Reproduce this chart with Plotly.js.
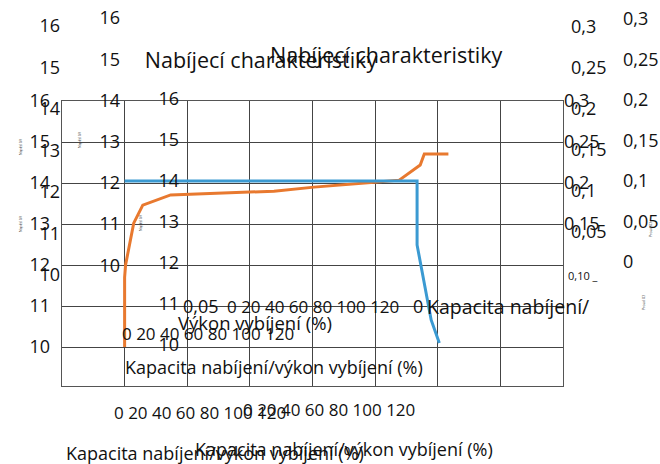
<!DOCTYPE html>
<html><head><meta charset="utf-8">
<script src="https://cdn.plot.ly/plotly-3.0.1.min.js"></script>
<style>html,body{margin:0;padding:0;background:#fff}#chart{width:660px;height:464px}</style>
</head><body><div id="chart"></div>
<script>
// ---- data ----
const chargeCapacity   = [0, 0, 0.3, 2.9, 5.8, 14.7, 47.7, 60.5, 79.7, 87.7, 94.4, 95.7, 103.4];
const chargeVoltage    = [10.0, 11.7, 12.0, 13.02, 13.46, 13.71, 13.80, 13.90, 14.02, 14.07, 14.44, 14.71, 14.71];
const dischargePower   = [0, 93.4, 93.4, 97.9, 100.5];
const dischargeVoltage = [14.05, 14.05, 12.49, 10.66, 10.1];
const voltageTicks     = [10, 11, 12, 13, 14, 15, 16];
const currentTicksMain = [0.15, 0.2, 0.25, 0.3];
const currentTicksMid  = [0.05, 0.1, 0.15, 0.2, 0.25, 0.3];
const currentTicksFar  = [0, 0.05, 0.1, 0.15, 0.2, 0.25, 0.3];
const percentTicks     = [0, 20, 40, 60, 80, 100, 120];
const titleText  = 'Nabíjecí charakteristiky';
const xTitleFull = 'Kapacita nabíjení/výkon vybíjení (%)';
const xTitleL1   = 'Kapacita nabíjení/';
const xTitleL2   = 'Výkon vybíjení (%)';
const strayLabels = ['0,05', '0', '0,10 _'];
const tinyLeft  = 'Napětí (V)';
const tinyRight = 'Proud (C)';

// ---- layout helpers (pixel -> paper) ----
const W = 660, H = 464;
const X = px => px / W;
const Y = py => 1 - py / H;
const FONT = 'Open Sans, Noto Sans, sans-serif';
const TF = 18;
const comma = v => String(v).replace('.', ',');
const GAP = 3;
const percentRow = percentTicks.map(String).join(' ');

function yCol(valTop, yTop, unitPx, lo, hi, edgePx, side, ticks) {
  const pix = v => yTop + (valTop - v) * unitPx;
  return {
    domain: [Y(pix(lo)), Y(pix(hi))], range: [lo, hi],
    anchor: 'free', side: side,
    position: side === 'left' ? X(edgePx + GAP) : X(edgePx - GAP),
    tickmode: 'array', tickvals: ticks,
    ticktext: ticks.map(comma),
    showgrid: false, zeroline: false, showline: false, ticks: '',
    tickfont: {family: FONT, size: TF, color: '#111'}
  };
}

const traces = [
  {x: chargeCapacity, y: chargeVoltage, type: 'scatter', mode: 'lines',
   line: {color: '#E8792F', width: 3}, xaxis: 'x', yaxis: 'y', hoverinfo: 'skip'},
  {x: dischargePower, y: dischargeVoltage, type: 'scatter', mode: 'lines',
   line: {color: '#3B9AD2', width: 3}, xaxis: 'x', yaxis: 'y', hoverinfo: 'skip'}
];
// placeholder traces so each label axis forms its own (invisible) subplot
['y3','y4','y5','y6','y7','y8','y9'].forEach(ya => traces.push({x: [null], y: [null], type: 'scatter', mode: 'lines', xaxis: 'x2', yaxis: ya, showlegend: false, hoverinfo: 'skip'}));

const f = s => ({family: FONT, size: s, color: '#111'});
const ann = (text, x, y, opts) => Object.assign({
  text: text, xref: 'paper', yref: 'paper', x: X(x), y: Y(y),
  xanchor: 'center', yanchor: 'middle', showarrow: false, font: f(18)
}, opts || {});
const tiny = (text, x, y) => ann(text, x, y, {textangle: -90, font: {family: FONT, size: 3.5, color: '#333'}});

const layout = {
  width: W, height: H,
  margin: {l: 0, r: 0, t: 0, b: 0},
  paper_bgcolor: '#fff', plot_bgcolor: 'rgba(0,0,0,0)',
  showlegend: false,
  font: {family: FONT, color: '#111'},
  title: {text: titleText, x: X(261), xanchor: 'center', y: Y(60), yanchor: 'middle', font: f(21.5)},
  xaxis: {domain: [X(62), X(563)], range: [-20, 140], tick0: 0, dtick: 20,
          showgrid: true, gridcolor: '#444', gridwidth: 1, showticklabels: false, ticks: '',
          showline: true, mirror: true, linecolor: '#555', linewidth: 1, zeroline: false, anchor: 'y'},
  yaxis: {domain: [Y(386), Y(101)], range: [9.05, 16], tickmode: 'array', tickvals: voltageTicks,
          showgrid: true, gridcolor: '#444', gridwidth: 1, showticklabels: false, ticks: '',
          showline: true, mirror: true, linecolor: '#555', linewidth: 1, zeroline: false, anchor: 'x'},
  xaxis2: {domain: [0, 1], range: [0, 1], visible: false, anchor: 'y2'},
  yaxis2: {domain: [0, 1], range: [0, 1], visible: false, anchor: 'x2'},
  // left voltage label columns
  yaxis3: yCol(16, 26, 41.5, 9.5, 16.2, 57, 'left', voltageTicks),
  yaxis4: yCol(16, 101, 41, 9.5, 16.2, 47, 'left', voltageTicks),
  yaxis5: yCol(16, 18, 41.2, 9.5, 16.2, 117, 'left', voltageTicks),
  yaxis6: yCol(16, 99, 41, 9.5, 16.2, 176, 'left', voltageTicks),
  // right current label columns
  yaxis7: yCol(0.3, 101, 41 / 0.05, 0.12, 0.31, 566, 'right', currentTicksMain),
  yaxis8: yCol(0.3, 27, 41 / 0.05, 0.03, 0.31, 573, 'right', currentTicksMid),
  yaxis9: yCol(0.3, 19, 40.5 / 0.05, -0.02, 0.31, 625, 'right', currentTicksFar),
  annotations: [
    ann(titleText, 387, 55, {font: f(21.5)}),
    // percentage tick-label rows
    ann(percentRow, 225, 306, {xanchor: 'left', font: f(17)}),
    ann(percentRow, 120, 333, {xanchor: 'left', font: f(17)}),
    ann(percentRow, 112, 412, {xanchor: 'left', font: f(17)}),
    ann(percentRow, 241, 409, {xanchor: 'left', font: f(17)}),
    ann(strayLabels[0], 201, 306),
    ann(strayLabels[1], 418, 306),
    ann(xTitleL1, 425, 306, {xanchor: 'left', font: f(19.5)}),
    ann(xTitleL2, 255, 322, {font: f(18.5)}),
    ann(xTitleFull, 274, 367),
    ann(xTitleFull, 215, 453),
    ann(xTitleFull, 344, 449),
    ann(strayLabels[2], 566, 275, {xanchor: 'left', font: f(11)}),
    tiny(tinyLeft, 20, 147),
    tiny(tinyLeft, 20, 224),
    tiny(tinyLeft, 79, 140),
    tiny(tinyLeft, 140, 223),
    tiny(tinyRight, 650, 230),
    tiny(tinyRight, 643, 303)
  ]
};

Plotly.newPlot('chart', traces, layout, {displayModeBar: false, staticPlot: true});
</script>
</body></html>
